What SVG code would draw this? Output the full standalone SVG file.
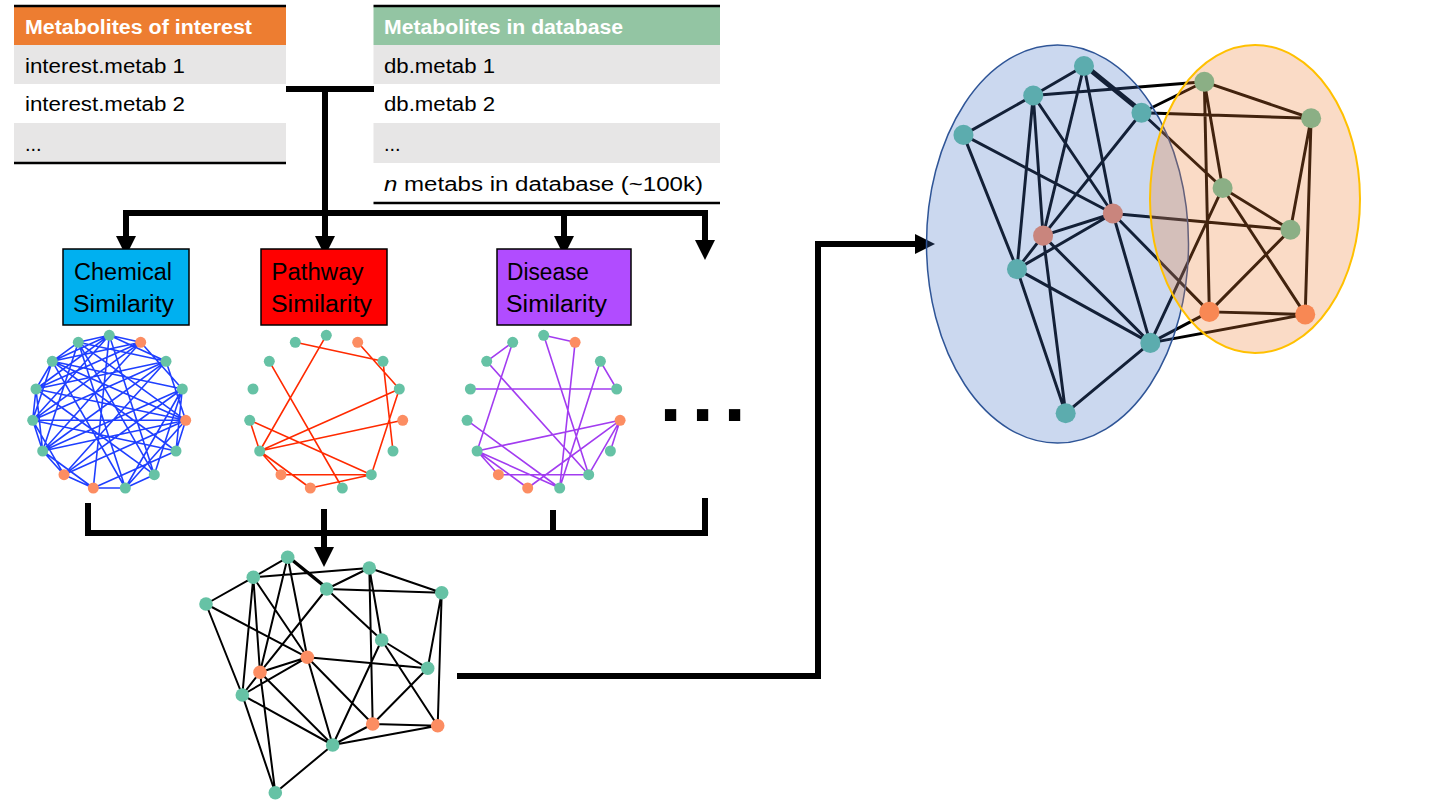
<svg xmlns="http://www.w3.org/2000/svg" xmlns:xlink="http://www.w3.org/1999/xlink" width="1440" height="810" viewBox="0 0 1440 810">
<style>
text{font-family:"Liberation Sans",Arial,sans-serif}
.hd{font-size:20px;font-weight:bold;fill:#fff}
.rw{font-size:20px;fill:#000}
.bx{font-size:23px;fill:#000}
.ln{stroke:#000;stroke-width:6;fill:none}
.g{fill:#66C2A5}
.o{fill:#FC8D62}
.eb{stroke:#1F3FFF;stroke-width:1.6;fill:none}
.er{stroke:#FF2A00;stroke-width:1.6;fill:none}
.ep{stroke:#A23CF0;stroke-width:1.6;fill:none}
.ek{stroke:#000;stroke-width:2;fill:none}
.gray{fill:#E7E6E6}
.rule{stroke:#000;stroke-width:2.5}
</style>
<defs>
<marker id="arr" viewBox="0 0 20 20" markerWidth="20" markerHeight="20" refX="10" refY="10" orient="auto" markerUnits="userSpaceOnUse">
<path d="M0,0 L20,10 L0,20 z" fill="#000"/>
</marker>
<g id="ring">
<circle class="g" cx="109.3" cy="335.3" r="5.5"/>
<circle class="o" cx="140.7" cy="342.3" r="5.5"/>
<circle class="g" cx="166" cy="361.3" r="5.5"/>
<circle class="g" cx="182.3" cy="389" r="5.5"/>
<circle class="o" cx="185.7" cy="420.3" r="5.5"/>
<circle class="g" cx="176" cy="451" r="5.5"/>
<circle class="g" cx="154.3" cy="474.7" r="5.5"/>
<circle class="g" cx="125.3" cy="488" r="5.5"/>
<circle class="o" cx="93.3" cy="488" r="5.5"/>
<circle class="o" cx="64" cy="474.7" r="5.5"/>
<circle class="g" cx="42.7" cy="451" r="5.5"/>
<circle class="g" cx="32.7" cy="420.3" r="5.5"/>
<circle class="g" cx="36" cy="389" r="5.5"/>
<circle class="g" cx="52.3" cy="361.3" r="5.5"/>
<circle class="g" cx="78.3" cy="342.3" r="5.5"/>
</g>
<g id="graph">
<path class="ek" d="M287.7 557.3L253.3 577.3M287.7 557.3L326.7 589M288.7 556.3L327.7 588M287.7 557.3L260 672.3M287.7 557.3L307.3 657.3M253.3 577.3L206 604M253.3 577.3L369.3 568M253.3 577.3L260 672.3M253.3 577.3L242.3 695M253.3 577.3L307.3 657.3M206 604L307.3 657.3M206 604L242.3 695M326.7 589L369.3 568M326.7 589L441.7 592.7M326.7 589L381.7 640M326.7 589L260 672.3M369.3 568L381.7 640M369.3 568L372.7 724M369.3 568L441.7 592.7M441.7 592.7L427.7 668.3M441.7 592.7L437.7 725.7M381.7 640L427.7 668.3M381.7 640L332.7 745M381.7 640L437.7 725.7M307.3 657.3L427.7 668.3M307.3 657.3L260 672.3M307.3 657.3L242.3 695M307.3 657.3L332.7 745M307.3 657.3L372.7 724M260 672.3L242.3 695M260 672.3L332.7 745M260 672.3L275.3 792.7M242.3 695L332.7 745M242.3 695L275.3 792.7M372.7 724L427.7 668.3M372.7 724L437.7 725.7M332.7 745L437.7 725.7M332.7 745L372.7 724M332.7 745L275.3 792.7"/>
<circle class="g" cx="287.7" cy="557.3" r="6.8"/>
<circle class="g" cx="253.3" cy="577.3" r="6.8"/>
<circle class="g" cx="206" cy="604" r="6.8"/>
<circle class="g" cx="326.7" cy="589" r="6.8"/>
<circle class="g" cx="369.3" cy="568" r="6.8"/>
<circle class="g" cx="441.7" cy="592.7" r="6.8"/>
<circle class="g" cx="381.7" cy="640" r="6.8"/>
<circle class="o" cx="307.3" cy="657.3" r="6.8"/>
<circle class="o" cx="260" cy="672.3" r="6.8"/>
<circle class="g" cx="427.7" cy="668.3" r="6.8"/>
<circle class="g" cx="242.3" cy="695" r="6.8"/>
<circle class="o" cx="372.7" cy="724" r="6.8"/>
<circle class="o" cx="437.7" cy="725.7" r="6.8"/>
<circle class="g" cx="332.7" cy="745" r="6.8"/>
<circle class="g" cx="275.3" cy="792.7" r="6.8"/>
</g>
</defs>

<g id="table-interest">
<rect x="14" y="7" width="272" height="38" fill="#ED7D31"/>
<rect class="gray" x="14" y="45" width="272" height="39"/>
<rect class="gray" x="14" y="123" width="272" height="39"/>
<line class="rule" x1="14" y1="6" x2="286" y2="6"/>
<line class="rule" x1="14" y1="163" x2="286" y2="163"/>
<text class="hd" x="25" y="34" textLength="227" lengthAdjust="spacingAndGlyphs">Metabolites of interest</text>
<text class="rw" x="25" y="73" textLength="160" lengthAdjust="spacingAndGlyphs">interest.metab 1</text>
<text class="rw" x="25" y="111" textLength="160" lengthAdjust="spacingAndGlyphs">interest.metab 2</text>
<text class="rw" x="25" y="151">...</text>
</g>

<g id="table-database">
<rect x="373.5" y="7" width="346.5" height="38" fill="#93C5A3"/>
<rect class="gray" x="373.5" y="45" width="346.5" height="39"/>
<rect class="gray" x="373.5" y="123" width="346.5" height="40"/>
<line class="rule" x1="373.5" y1="6" x2="720" y2="6"/>
<line class="rule" x1="373.5" y1="203" x2="720" y2="203"/>
<text class="hd" x="384" y="34" textLength="239" lengthAdjust="spacingAndGlyphs">Metabolites in database</text>
<text class="rw" x="384" y="73" textLength="111" lengthAdjust="spacingAndGlyphs">db.metab 1</text>
<text class="rw" x="384" y="111" textLength="111" lengthAdjust="spacingAndGlyphs">db.metab 2</text>
<text class="rw" x="384" y="151">...</text>
<text class="rw" x="384" y="191" textLength="319" lengthAdjust="spacingAndGlyphs"><tspan font-style="italic">n</tspan> metabs in database (~100k)</text>
</g>

<g id="connectors">
<line class="ln" x1="286" y1="89" x2="374" y2="89"/>
<line class="ln" x1="325" y1="89" x2="325" y2="213"/>
<line class="ln" x1="123" y1="213" x2="708" y2="213"/>
<line class="ln" x1="126" y1="213" x2="126" y2="246" marker-end="url(#arr)"/>
<line class="ln" x1="325" y1="213" x2="325" y2="246" marker-end="url(#arr)"/>
<line class="ln" x1="564" y1="213" x2="564" y2="246" marker-end="url(#arr)"/>
<line class="ln" x1="705" y1="210" x2="705" y2="250" marker-end="url(#arr)"/>
<path class="ln" d="M88,503 V533 H705 V498"/>
<line class="ln" x1="553" y1="510" x2="553" y2="533"/>
<line class="ln" x1="324" y1="509" x2="324" y2="557" marker-end="url(#arr)"/>
<path class="ln" d="M457,676 H818 V244 H925" marker-end="url(#arr)"/>
</g>

<g id="box-chemical">
<rect x="63" y="249" width="126" height="76" fill="#00B0F0" stroke="#000" stroke-width="1.5"/>
<text class="bx" x="74" y="280" textLength="98" lengthAdjust="spacingAndGlyphs">Chemical</text>
<text class="bx" x="73" y="312" textLength="101" lengthAdjust="spacingAndGlyphs">Similarity</text>
</g>
<g id="box-pathway">
<rect x="261" y="249" width="126" height="76" fill="#FF0000" stroke="#000" stroke-width="1.5"/>
<text class="bx" x="271.5" y="280" textLength="92" lengthAdjust="spacingAndGlyphs">Pathway</text>
<text class="bx" x="271" y="312" textLength="101" lengthAdjust="spacingAndGlyphs">Similarity</text>
</g>
<g id="box-disease">
<rect x="497" y="249" width="134" height="76" fill="#B14CFF" stroke="#000" stroke-width="1.5"/>
<text class="bx" x="507" y="280" textLength="82" lengthAdjust="spacingAndGlyphs">Disease</text>
<text class="bx" x="506" y="312" textLength="101" lengthAdjust="spacingAndGlyphs">Similarity</text>
</g>

<g id="net-chemical">
<path class="eb" d="M52.3 361.3L109.3 335.3M52.3 361.3L140.7 342.3M52.3 361.3L182.3 389M52.3 361.3L185.7 420.3M52.3 361.3L125.3 488M36 389L109.3 335.3M36 389L166 361.3M36 389L185.7 420.3M36 389L154.3 474.7M32.7 420.3L140.7 342.3M32.7 420.3L185.7 420.3M32.7 420.3L176 451M32.7 420.3L64 474.7M42.7 451L182.3 389M42.7 451L166 361.3M42.7 451L93.3 488M64 474.7L185.7 420.3M64 474.7L182.3 389M93.3 488L109.3 335.3M93.3 488L176 451M125.3 488L78.3 342.3M125.3 488L182.3 389M154.3 474.7L109.3 335.3M154.3 474.7L78.3 342.3M176 451L52.3 361.3M78.3 342.3L185.7 420.3M109.3 335.3L166 361.3M140.7 342.3L182.3 389M109.3 335.3L32.7 420.3M78.3 342.3L42.7 451M166 361.3L64 474.7M78.3 342.3L109.3 335.3M109.3 335.3L140.7 342.3M140.7 342.3L36 389M78.3 342.3L166 361.3M182.3 389L154.3 474.7M185.7 420.3L176 451M154.3 474.7L125.3 488M125.3 488L93.3 488M93.3 488L64 474.7M64 474.7L42.7 451M42.7 451L32.7 420.3M32.7 420.3L36 389M36 389L52.3 361.3M52.3 361.3L78.3 342.3M185.7 420.3L125.3 488M166 361.3L32.7 420.3M140.7 342.3L42.7 451M42.7 451L185.7 420.3M36 389L42.7 451M52.3 361.3L32.7 420.3M182.3 389L176 451M166 361.3L185.7 420.3"/>
<use href="#ring" xlink:href="#ring"/>
</g>

<g id="net-pathway" transform="translate(217,0)">
<path class="er" d="M78.3 342.3L166 361.3M140.7 342.3L182.3 389M109.3 335.3L42.7 451M52.3 361.3L125.3 488M166 361.3L176 451M182.3 389L42.7 451M182.3 389L154.3 474.7M185.7 420.3L42.7 451M32.7 420.3L154.3 474.7M32.7 420.3L42.7 451M42.7 451L64 474.7M42.7 451L93.3 488M64 474.7L154.3 474.7M93.3 488L154.3 474.7"/>
<use href="#ring" xlink:href="#ring"/>
</g>

<g id="net-disease" transform="translate(434.4,0)">
<path class="ep" d="M52.3 361.3L78.3 342.3M78.3 342.3L42.7 451M109.3 335.3L140.7 342.3M109.3 335.3L154.3 474.7M140.7 342.3L125.3 488M166 361.3L182.3 389M166 361.3L125.3 488M36 389L182.3 389M52.3 361.3L154.3 474.7M32.7 420.3L125.3 488M185.7 420.3L42.7 451M185.7 420.3L93.3 488M185.7 420.3L154.3 474.7M185.7 420.3L176 451M42.7 451L64 474.7M42.7 451L93.3 488M42.7 451L125.3 488M64 474.7L154.3 474.7"/>
<use href="#ring" xlink:href="#ring"/>
</g>

<g id="ellipsis">
<text x="659.5" y="421.3" font-size="80" font-weight="bold" letter-spacing="9.8" fill="#000">...</text>
</g>

<g id="net-combined">
<use href="#graph" xlink:href="#graph"/>
</g>

<g id="net-clustered">
<use href="#graph" xlink:href="#graph" transform="translate(659.6,-756) scale(1.475)"/>
<ellipse id="cluster-blue" cx="1057.5" cy="244" rx="131" ry="199" fill="#4472C4" fill-opacity="0.28" stroke="#2F5597" stroke-width="1.5"/>
<ellipse id="cluster-orange" cx="1255" cy="199" rx="105" ry="154" fill="#ED7D31" fill-opacity="0.28" stroke="#FFC000" stroke-width="2"/>
</g>
</svg>
